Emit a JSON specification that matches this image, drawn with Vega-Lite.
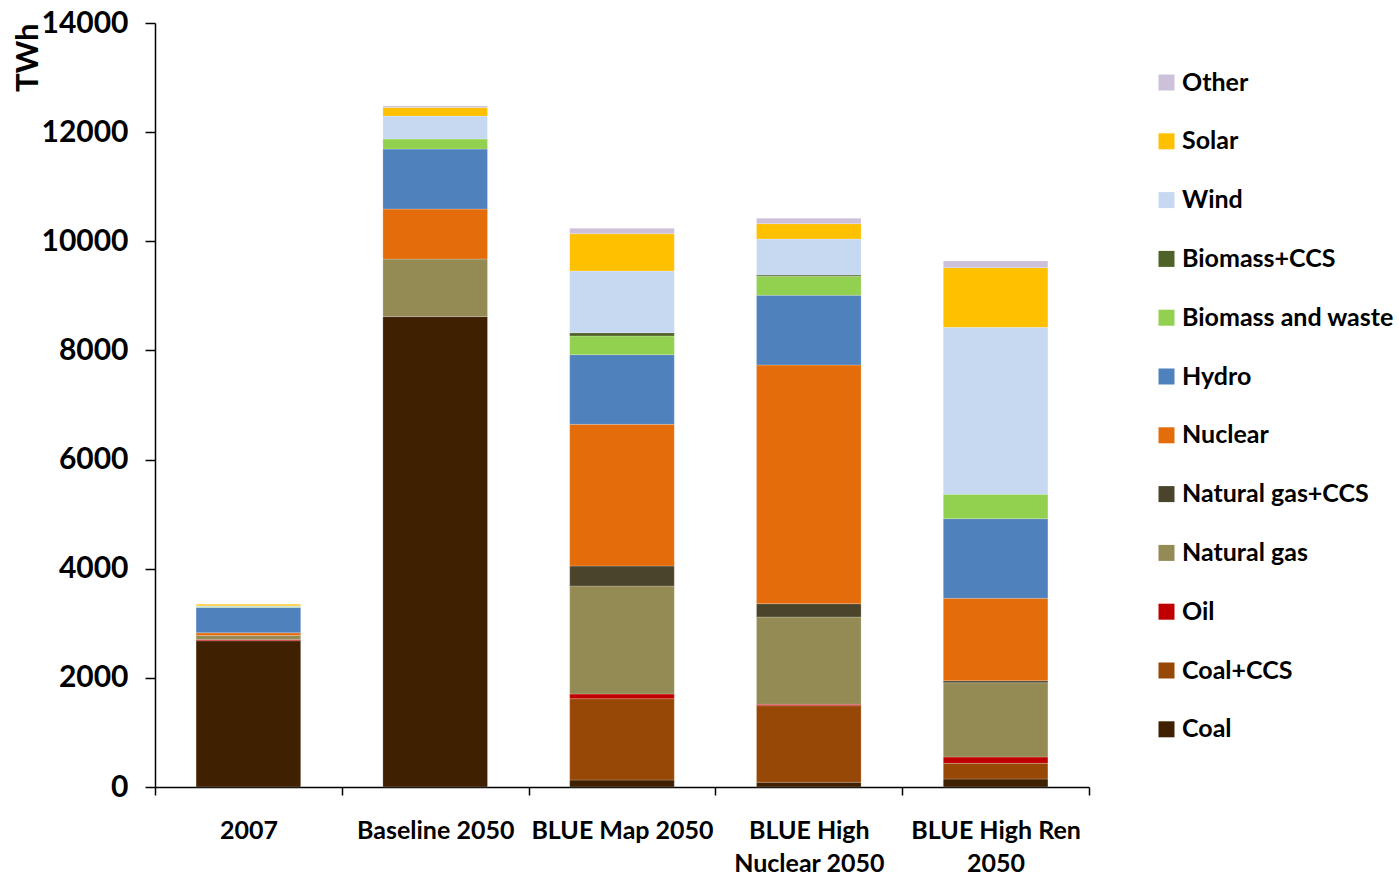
{
  "$schema": "https://vega.github.io/schema/vega-lite/v6.json",
  "width": 934,
  "height": 764,
  "autosize": "none",
  "padding": {"left": 155, "top": 23, "right": 310, "bottom": 89},
  "background": "white",
  "config": {"view": {"stroke": null}, "font": "Lato"},
  "datasets": {
    "gen": [
      {"scenario": "2007", "source": "Coal", "k": 1, "TWh": 2680},
      {"scenario": "2007", "source": "Oil", "k": 3, "TWh": 25},
      {"scenario": "2007", "source": "Natural gas", "k": 4, "TWh": 70},
      {"scenario": "2007", "source": "Nuclear", "k": 6, "TWh": 50},
      {"scenario": "2007", "source": "Hydro", "k": 7, "TWh": 465},
      {"scenario": "2007", "source": "Biomass and waste", "k": 8, "TWh": 10},
      {"scenario": "2007", "source": "Wind", "k": 10, "TWh": 20},
      {"scenario": "2007", "source": "Solar", "k": 11, "TWh": 30},

      {"scenario": "Baseline 2050", "source": "Coal", "k": 1, "TWh": 8620},
      {"scenario": "Baseline 2050", "source": "Natural gas", "k": 4, "TWh": 1055},
      {"scenario": "Baseline 2050", "source": "Nuclear", "k": 6, "TWh": 915},
      {"scenario": "Baseline 2050", "source": "Hydro", "k": 7, "TWh": 1100},
      {"scenario": "Baseline 2050", "source": "Biomass and waste", "k": 8, "TWh": 185},
      {"scenario": "Baseline 2050", "source": "Wind", "k": 10, "TWh": 420},
      {"scenario": "Baseline 2050", "source": "Solar", "k": 11, "TWh": 155},
      {"scenario": "Baseline 2050", "source": "Other", "k": 12, "TWh": 30},

      {"scenario": "BLUE Map 2050", "source": "Coal", "k": 1, "TWh": 128},
      {"scenario": "BLUE Map 2050", "source": "Coal+CCS", "k": 2, "TWh": 1490},
      {"scenario": "BLUE Map 2050", "source": "Oil", "k": 3, "TWh": 86},
      {"scenario": "BLUE Map 2050", "source": "Natural gas", "k": 4, "TWh": 1979},
      {"scenario": "BLUE Map 2050", "source": "Natural gas+CCS", "k": 5, "TWh": 367},
      {"scenario": "BLUE Map 2050", "source": "Nuclear", "k": 6, "TWh": 2596},
      {"scenario": "BLUE Map 2050", "source": "Hydro", "k": 7, "TWh": 1276},
      {"scenario": "BLUE Map 2050", "source": "Biomass and waste", "k": 8, "TWh": 343},
      {"scenario": "BLUE Map 2050", "source": "Biomass+CCS", "k": 9, "TWh": 60},
      {"scenario": "BLUE Map 2050", "source": "Wind", "k": 10, "TWh": 1131},
      {"scenario": "BLUE Map 2050", "source": "Solar", "k": 11, "TWh": 683},
      {"scenario": "BLUE Map 2050", "source": "Other", "k": 12, "TWh": 99},

      {"scenario": "BLUE High Nuclear 2050", "source": "Coal", "k": 1, "TWh": 86},
      {"scenario": "BLUE High Nuclear 2050", "source": "Coal+CCS", "k": 2, "TWh": 1404},
      {"scenario": "BLUE High Nuclear 2050", "source": "Oil", "k": 3, "TWh": 25},
      {"scenario": "BLUE High Nuclear 2050", "source": "Natural gas", "k": 4, "TWh": 1600},
      {"scenario": "BLUE High Nuclear 2050", "source": "Natural gas+CCS", "k": 5, "TWh": 244},
      {"scenario": "BLUE High Nuclear 2050", "source": "Nuclear", "k": 6, "TWh": 4374},
      {"scenario": "BLUE High Nuclear 2050", "source": "Hydro", "k": 7, "TWh": 1277},
      {"scenario": "BLUE High Nuclear 2050", "source": "Biomass and waste", "k": 8, "TWh": 348},
      {"scenario": "BLUE High Nuclear 2050", "source": "Biomass+CCS", "k": 9, "TWh": 24},
      {"scenario": "BLUE High Nuclear 2050", "source": "Wind", "k": 10, "TWh": 660},
      {"scenario": "BLUE High Nuclear 2050", "source": "Solar", "k": 11, "TWh": 280},
      {"scenario": "BLUE High Nuclear 2050", "source": "Other", "k": 12, "TWh": 99},

      {"scenario": "BLUE High Ren 2050", "source": "Coal", "k": 1, "TWh": 147},
      {"scenario": "BLUE High Ren 2050", "source": "Coal+CCS", "k": 2, "TWh": 287},
      {"scenario": "BLUE High Ren 2050", "source": "Oil", "k": 3, "TWh": 116},
      {"scenario": "BLUE High Ren 2050", "source": "Natural gas", "k": 4, "TWh": 1361},
      {"scenario": "BLUE High Ren 2050", "source": "Natural gas+CCS", "k": 5, "TWh": 37},
      {"scenario": "BLUE High Ren 2050", "source": "Nuclear", "k": 6, "TWh": 1510},
      {"scenario": "BLUE High Ren 2050", "source": "Hydro", "k": 7, "TWh": 1459},
      {"scenario": "BLUE High Ren 2050", "source": "Biomass and waste", "k": 8, "TWh": 447},
      {"scenario": "BLUE High Ren 2050", "source": "Wind", "k": 10, "TWh": 3060},
      {"scenario": "BLUE High Ren 2050", "source": "Solar", "k": 11, "TWh": 1092},
      {"scenario": "BLUE High Ren 2050", "source": "Other", "k": 12, "TWh": 123}
    ]
  },
  "data": {"name": "gen"},
  "mark": {"type": "bar", "width": {"band": 0.56}, "stroke": "#ffffff", "strokeOpacity": 0.35, "strokeWidth": 0.6},
  "encoding": {
    "x": {
      "field": "scenario",
      "type": "nominal",
      "sort": ["2007", "Baseline 2050", "BLUE Map 2050", "BLUE High Nuclear 2050", "BLUE High Ren 2050"],
      "scale": {"paddingInner": 0, "paddingOuter": 0},
      "axis": {
        "title": null,
        "labelAngle": 0,
        "labelFont": "Lato",
        "labelFontSize": 25,
        "labelFontWeight": "bold",
        "labelColor": "#000000",
        "labelPadding": 23,
        "labelLineHeight": 33,
        "labelBaseline": "top",
        "labelLimit": 400,
        "labelOverlap": false,
        "labelExpr": "datum.label == 'BLUE High Nuclear 2050' ? ['BLUE High', 'Nuclear 2050'] : datum.label == 'BLUE High Ren 2050' ? ['BLUE High Ren', '2050'] : datum.label",
        "tickBand": "extent",
        "tickSize": 8,
        "tickColor": "#000000",
        "tickWidth": 1.5,
        "domainColor": "#000000",
        "domainWidth": 1.5
      }
    },
    "y": {
      "field": "TWh",
      "type": "quantitative",
      "aggregate": "sum",
      "stack": "zero",
      "scale": {"domain": [0, 14000], "nice": false},
      "axis": {
        "title": "TWh",
        "titleFont": "Lato",
        "titleFontSize": 31,
        "titleFontWeight": "bold",
        "titleColor": "#000000",
        "titleAngle": -90,
        "titleX": -127,
        "titleY": 0,
        "titleAlign": "right",
        "titleBaseline": "middle",
        "values": [0, 2000, 4000, 6000, 8000, 10000, 12000, 14000],
        "format": "d",
        "grid": false,
        "labelFont": "Lato",
        "labelFontSize": 30,
        "labelFontWeight": "bold",
        "labelColor": "#000000",
        "labelPadding": 17,
        "tickSize": 10,
        "tickColor": "#000000",
        "tickWidth": 1.5,
        "domainColor": "#000000",
        "domainWidth": 1.5
      }
    },
    "color": {
      "field": "source",
      "type": "nominal",
      "scale": {
        "domain": ["Other", "Solar", "Wind", "Biomass+CCS", "Biomass and waste", "Hydro", "Nuclear", "Natural gas+CCS", "Natural gas", "Oil", "Coal+CCS", "Coal"],
        "range": ["#CCC0DA", "#FFC000", "#C6D9F1", "#4F6228", "#92D050", "#4F81BD", "#E46C0A", "#4A452A", "#948A54", "#C00000", "#974706", "#3F2000"]
      },
      "legend": {
        "title": null,
        "orient": "none",
        "legendX": 999,
        "legendY": 47,
        "symbolType": "square",
        "symbolSize": 256,
        "symbolStrokeWidth": 0,
        "symbolOpacity": 1,
        "labelFont": "Lato",
        "labelFontSize": 25,
        "labelFontWeight": "bold",
        "labelColor": "#000000",
        "labelOffset": 3,
        "labelLimit": 400,
        "rowPadding": 32.8
      }
    },
    "order": {"field": "k", "type": "quantitative", "sort": "ascending"},
    "tooltip": [{"field": "scenario"}, {"field": "source"}, {"field": "TWh"}]
  }
}
